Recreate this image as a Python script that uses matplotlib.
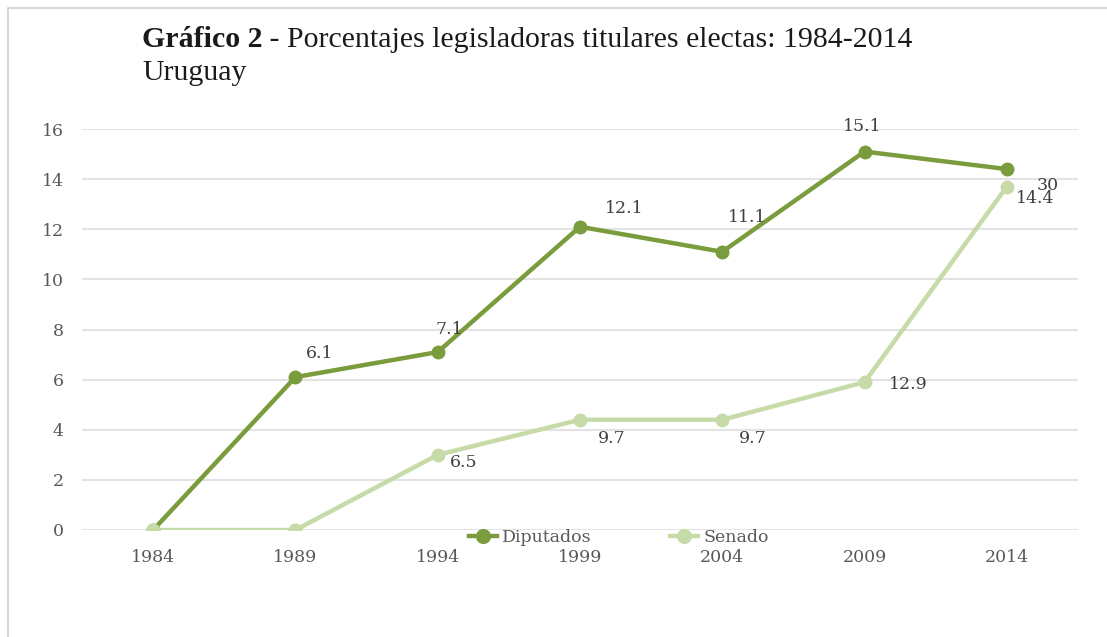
import matplotlib.pyplot as plt
from matplotlib.patches import Rectangle

# data
years = ["1984", "1989", "1994", "1999", "2004", "2009", "2014"]
diputados = [0, 6.1, 7.1, 12.1, 11.1, 15.1, 14.4]
diputados_labels = ["", "6.1", "7.1", "12.1", "11.1", "15.1", "14.4"]
senado = [0, 0, 3, 4.4, 4.4, 5.9, 13.7]
senado_labels = ["", "", "6.5", "9.7", "9.7", "12.9", "30"]

# label offsets in pixels (layout only)
dip_offsets = [(0, 0), (24, 24), (12, 23), (44, 18), (25, 34), (-2, 25), (28, -29)]
sen_offsets = [(0, 0), (0, 0), (26, -8), (32, -19), (30, -19), (44, -2), (41, 1)]

dark = "#7a9c3c"
light = "#c6dba7"
txt = "#404040"
serif = "DejaVu Serif"
fs = 12.5

fig = plt.figure(figsize=(11.07, 6.37), dpi=100)
fig.patches.append(Rectangle((8 / 1107, -0.1), 1.2, (637 - 8) / 637 + 0.1,
                             transform=fig.transFigure, fill=False,
                             edgecolor="#d0d0d0", linewidth=1.2))

ax = fig.add_axes([82 / 1107, 107 / 637, (1078 - 82) / 1107, 401 / 637])
x = list(range(len(years)))

ax.plot(x, diputados, color=dark, linewidth=3.2, marker="o", markersize=9,
        label="Diputados", zorder=2)
ax.plot(x, senado, color=light, linewidth=3.2, marker="o", markersize=9,
        label="Senado", zorder=3)

for i, (v, lab) in enumerate(zip(diputados, diputados_labels)):
    if lab:
        ax.annotate(lab, (i, v), xytext=dip_offsets[i], textcoords="offset pixels",
                    ha="center", va="center", fontsize=fs, color=txt,
                    family=serif, zorder=4)
for i, (v, lab) in enumerate(zip(senado, senado_labels)):
    if lab:
        ax.annotate(lab, (i, v), xytext=sen_offsets[i], textcoords="offset pixels",
                    ha="center", va="center", fontsize=fs, color=txt,
                    family=serif, zorder=4)

ax.set_xlim(-0.5, len(years) - 0.5)
ax.set_ylim(0, 16)
ax.set_yticks(range(0, 17, 2))
ax.set_xticks(x)
ax.set_xticklabels(years)
ax.grid(axis="y", color="#e3e3e3", linewidth=1.5)
ax.set_axisbelow(True)
for s in ax.spines.values():
    s.set_visible(False)
ax.tick_params(length=0, labelsize=fs, labelcolor="#595959")
ax.tick_params(axis="x", pad=14)
ax.tick_params(axis="y", pad=13)
for lab in ax.get_xticklabels() + ax.get_yticklabels():
    lab.set_family(serif)

leg = fig.legend(loc="center", bbox_to_anchor=(619 / 1107, 1 - 538 / 637), ncol=2,
                 frameon=False, prop={"family": serif, "size": fs},
                 handlelength=1.6, columnspacing=4.5, handletextpad=0.3,
                 markerscale=1.1)
for t in leg.get_texts():
    t.set_color("#595959")

# title: bold part followed by regular part
tsize = 21.5
t1 = fig.text(142 / 1107, 1 - 47 / 637, "Gráfico 2", fontsize=tsize, weight="bold",
              family="Liberation Serif", color="#1a1a1a", va="baseline")
fig.canvas.draw()
bb = t1.get_window_extent()
fig.text(bb.x1 / 1107, 1 - 47 / 637,
         " - Porcentajes legisladoras titulares electas: 1984-2014",
         fontsize=tsize, family="Liberation Serif", color="#1a1a1a", va="baseline")
fig.text(142 / 1107, 1 - 80 / 637, "Uruguay", fontsize=tsize,
         family="Liberation Serif", color="#1a1a1a", va="baseline")

fig.savefig("out.png", dpi=100)
